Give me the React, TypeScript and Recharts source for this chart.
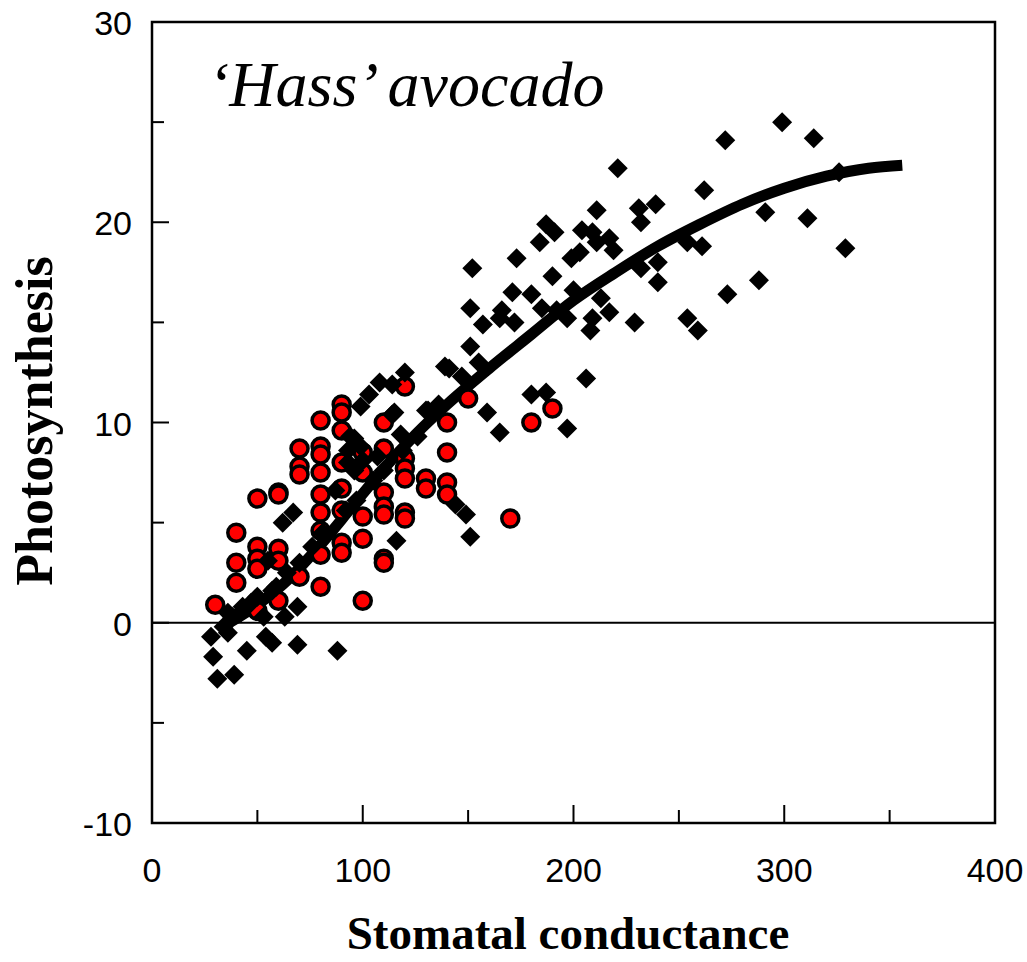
import React from 'react';
import { ComposedChart, Scatter, Line, XAxis, YAxis, ReferenceLine, ReferenceArea } from 'recharts';

// Red circles (x = conductance, y = photosynthesis)
const redX = [30, 40, 40, 40, 50, 50, 50, 50, 50, 60, 60, 60, 60, 60, 70, 70, 70, 70,
  80, 80, 80, 80, 80, 80, 80, 80, 80, 90, 90, 90, 90, 90, 90, 90, 90,
  100, 100, 100, 100, 100, 110, 110, 110, 110, 110, 110, 110,
  120, 120, 120, 120, 120, 120, 130, 130, 140, 140, 140, 140, 150, 170, 180, 190];
const redY = [0.9, 4.5, 3.0, 2.0, 6.2, 3.8, 3.2, 2.7, 0.6, 6.5, 6.4, 3.7, 3.1, 1.1, 8.7, 7.8, 7.4, 2.3,
  10.1, 8.8, 8.4, 7.5, 6.4, 5.5, 4.6, 3.4, 1.8, 10.9, 10.5, 9.6, 8.0, 6.7, 5.6, 4.0, 3.5,
  8.5, 7.5, 5.3, 4.2, 1.1, 10.0, 8.7, 6.5, 5.8, 5.4, 3.2, 3.0,
  11.8, 8.2, 7.7, 7.2, 5.5, 5.2, 7.2, 6.7, 10.0, 8.5, 7.0, 6.4, 11.2, 5.2, 10.0, 10.7];

// Black diamonds
const blackX = [221, 262, 211, 231, 239, 232, 187, 191, 184, 204, 209, 217, 219, 211, 203, 199, 173, 152,
  190, 171, 180, 166, 151, 157, 172, 165, 185, 192, 197, 200, 213, 217, 209, 208, 229, 254, 259,
  232, 240, 240, 254, 261, 151, 139, 155, 147, 206, 159, 165, 180, 187, 197, 130, 136,
  299, 272, 314, 326, 291, 311, 329, 288, 273,
  120, 144, 149, 151, 116, 115, 118, 108, 114, 103, 99, 114, 96, 93, 99, 100, 93, 96, 87, 67, 62,
  94, 107, 131, 141, 88, 69, 69, 57, 45, 29, 31, 39, 28, 34, 38, 43, 53, 57, 55,
  42, 47, 50, 59, 64, 70, 76, 81, 92, 97, 105, 110, 119, 126, 36, 36, 54, 63];
const blackY = [22.7, 21.6, 20.6, 20.7, 20.9, 20.0, 19.9, 19.5, 19.0, 19.6, 19.5, 19.2, 18.6, 19.0, 18.5, 18.2, 18.2, 17.7,
  17.3, 16.5, 16.4, 15.6, 15.7, 14.9, 15.0, 15.2, 15.7, 15.6, 15.2, 16.6, 16.2, 15.5, 15.2, 14.6, 15.0, 15.2, 14.6,
  17.7, 18.0, 17.0, 19.0, 18.8, 13.8, 12.8, 13.0, 12.3, 12.2, 10.5, 9.5, 11.4, 11.5, 9.7, 10.6, 10.9,
  25.0, 24.1, 24.2, 22.5, 20.5, 20.2, 18.7, 17.1, 16.4,
  12.5, 5.9, 5.4, 4.3, 4.1, 10.5, 9.4, 12.0, 11.9, 11.4, 10.8, 10.4, 9.2, 8.6, 8.8, 8.1, 8.0, 7.6, 6.6, 5.5, 5.0,
  9.3, 8.3, 10.6, 12.7, -1.4, 0.8, -1.1, -1.0, -1.4, -1.7, -2.8, -2.6, -0.7, -0.2, 0.3, 0.8, 0.3, 1.6, 3.1,
  0.5, 1.0, 1.3, 1.8, 2.5, 3.0, 3.8, 4.5, 5.6, 6.1, 7.1, 7.6, 8.6, 9.3, 0.5, -0.5, -0.7, 0.3];

// Fitted curve
const curveX = [35, 50, 65, 80, 95, 110, 125, 140, 160, 180, 200, 220, 240, 260, 280, 300, 320, 340, 356];
const curveY = [-0.1, 0.9, 2.2, 3.9, 5.8, 7.7, 9.4, 10.9, 12.7, 14.4, 16.1, 17.5, 18.8, 19.9, 20.9, 21.7, 22.3, 22.7, 22.85];

const xTicks = [0, 50, 100, 150, 200, 250, 300, 350, 400];
const yTicks = [-10, -5, 0, 5, 10, 15, 20, 25, 30];
const xMajor = [0, 100, 200, 300, 400];
const yMajor = [-10, 0, 10, 20, 30];

const redData = redX.map((x, i) => ({ x, y: redY[i] }));
const blackData = blackX.map((x, i) => ({ x, y: blackY[i] }));
const curveData = curveX.map((x, i) => ({ x, y: curveY[i] }));

const SANS = 'Liberation Sans, Arial, sans-serif';
const SERIF = 'Liberation Serif, Times New Roman, serif';

const XTick = (props: any) => {
  const { x, y, payload } = props;
  const major = xMajor.includes(payload.value);
  return (
    <g>
      <line x1={x} x2={x} y1={y} y2={y - (major ? 18 : 13)} stroke="#000" strokeWidth={2} />
      {major && (
        <text x={x} y={y + 59} textAnchor="middle" fontSize={34} fontFamily={SANS} fill="#000">
          {payload.value}
        </text>
      )}
    </g>
  );
};

const YTick = (props: any) => {
  const { x, y, payload } = props;
  const major = yMajor.includes(payload.value);
  return (
    <g>
      <line x1={x} x2={x + (major ? 17 : 12)} y1={y} y2={y} stroke="#000" strokeWidth={2} />
      {major && (
        <text x={x - 20} y={y + 13} textAnchor="end" fontSize={34} fontFamily={SANS} fill="#000">
          {payload.value}
        </text>
      )}
    </g>
  );
};

const Diamond = (p: any) => {
  const { cx, cy } = p;
  const r = 10;
  return <path d={`M${cx},${cy - r}L${cx + r},${cy}L${cx},${cy + r}L${cx - r},${cy}Z`} fill="#000" />;
};

const RedDot = (p: any) => {
  const { cx, cy } = p;
  return <circle cx={cx} cy={cy} r={8.5} fill="#ff0000" stroke="#000" strokeWidth={3.5} />;
};

export default function App() {
  return (
    <div style={{ position: 'absolute', left: 0, top: 0 }}>
      <ComposedChart
        width={1027}
        height={962}
        margin={{ top: 22, left: 92, right: 32, bottom: 99 }}
      >
        <XAxis
          type="number"
          dataKey="x"
          domain={[0, 400]}
          ticks={xTicks}
          interval={0}
          allowDataOverflow
          axisLine={false}
          tickLine={false}
          tickSize={0}
          tickMargin={0}
          height={40}
          tick={<XTick />}
        />
        <YAxis
          type="number"
          dataKey="y"
          domain={[-10, 30]}
          ticks={yTicks}
          interval={0}
          allowDataOverflow
          axisLine={false}
          tickLine={false}
          tickSize={0}
          tickMargin={0}
          width={60}
          tick={<YTick />}
        />
        <ReferenceArea x1={0} x2={400} y1={-10} y2={30} fill="none" fillOpacity={0} stroke="#000" strokeWidth={2.5} />
        <ReferenceLine y={0} stroke="#000" strokeWidth={2} />
        <Scatter data={redData} shape={<RedDot />} isAnimationActive={false} />
        <Scatter data={blackData} shape={<Diamond />} isAnimationActive={false} />
        <Line
          data={curveData}
          dataKey="y"
          type="monotone"
          dot={false}
          activeDot={false}
          stroke="#000"
          strokeWidth={11}
          isAnimationActive={false}
        />
        <text x={208} y={106} fontSize={64} fontStyle="italic" fontFamily={SERIF} fill="#000">
          ‘Hass’ avocado
        </text>
        <text
          x={52}
          y={421}
          transform="rotate(-90, 52, 421)"
          textAnchor="middle"
          fontSize={52}
          fontWeight="bold"
          fontFamily={SERIF}
          fill="#000"
        >
          Photosynthesis
        </text>
        <text x={568} y={949} textAnchor="middle" fontSize={47} fontWeight="bold" fontFamily={SERIF} fill="#000">
          Stomatal conductance
        </text>
      </ComposedChart>
    </div>
  );
}
